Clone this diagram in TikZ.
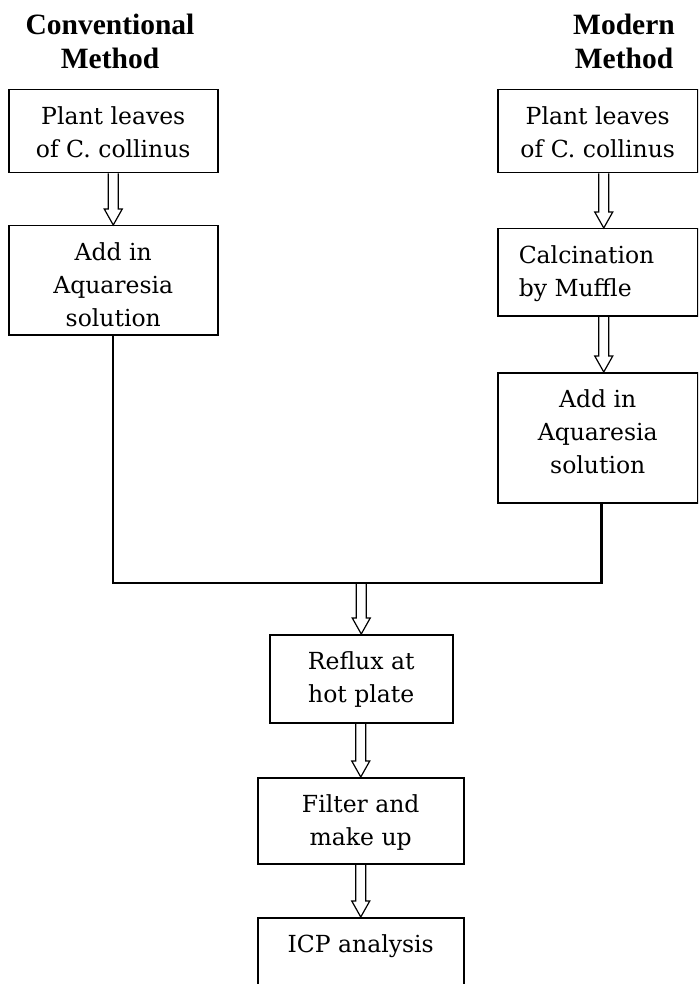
\documentclass[tikz,border=0pt]{standalone}
\usepackage{fontspec}
\setmainfont{DejaVu Serif}
\newfontfamily\headfont{Liberation Serif}
\usetikzlibrary{calc}

\newcommand{\boxtext}[4][\centering]{\parbox[t][#3][t]{#2}{#1\rule{0pt}{35pt}#4}}
\newcommand{\hollowarrow}[2]{%
	\coordinate (arrtop) at (#1 -| #2);
	\draw[arrowline] ($(arrtop)+(-5,0)$) -- ($(#2)+(-5,-16)$) -- ($(#2)+(-9,-16)$) -- (#2)
		-- ($(#2)+(9,-16)$) -- ($(#2)+(5,-16)$) -- ($(arrtop)+(5,0)$);}

\tikzset{
	stepbox/.style={draw, line width=1.5pt, inner sep=0pt, anchor=north west,
		font=\fontsize{23.5}{33}\selectfont},
	headtext/.style={anchor=north, align=center, inner sep=0pt,
		font=\headfont\bfseries\fontsize{29.5}{34}\selectfont},
	arrowline/.style={line width=1.2pt, line join=miter},
	joinline/.style={line width=2pt}
}

\begin{document}
\begin{tikzpicture}[x=1pt,y=-1pt]
		\useasboundingbox (0,0) rectangle (698,984);
		\clip (0,0) rectangle (698,984);
		\node[headtext] (convhead) at (110,0) {\rule{0pt}{34pt}Conventional\\Method};
		\node[headtext] (modhead) at (624,0) {\rule{0pt}{34pt}Modern\\Method};
		\node[stepbox] (plantL) at (8,89) {\boxtext{209pt}{83pt}{Plant leaves\\of C. collinus}};
		\node[stepbox] (addL) at (8,225) {\boxtext{209pt}{109pt}{Add in\\Aquaresia\\solution}};
		\node[stepbox] (plantR) at (497,89) {\boxtext{200pt}{83pt}{Plant leaves\\of C. collinus}};
		\node[stepbox] (calcR) at (497,228) {\boxtext[\raggedright\leftskip=21pt]{200pt}{87pt}{Calcination\\by Muffle}};
		\node[stepbox] (addR) at (497,372) {\boxtext{200pt}{130pt}{Add in\\Aquaresia\\solution}};
		\node[stepbox] (reflux) at (269,634) {\boxtext{183pt}{88pt}{Reflux at\\hot plate}};
		\node[stepbox] (filter) at (257,777) {\boxtext{206pt}{86pt}{Filter and\\make up}};
		\node[stepbox] (icp) at (257,917) {\boxtext{206pt}{100pt}{ICP analysis}};
		\coordinate (r1a) at ([xshift=6pt]plantR.south);
		\coordinate (r1b) at ([xshift=6pt]calcR.north);
		\coordinate (r2a) at ([xshift=6pt]calcR.south);
		\coordinate (r2b) at ([xshift=6pt]addR.north);
		\coordinate (outR) at ([xshift=4pt]addR.south);
		\coordinate (merge) at ($(reflux.north)+(0,-51)$);
		\hollowarrow{plantL.south}{addL.north}
		\hollowarrow{r1a}{r1b}
		\hollowarrow{r2a}{r2b}
		\draw[joinline] (addL.south) |- (merge) -| (outR);
		\draw[joinline, line width=3pt] (outR) -- (outR |- merge);
		\hollowarrow{merge}{reflux.north}
		\hollowarrow{reflux.south}{filter.north}
		\hollowarrow{filter.south}{icp.north}
	\end{tikzpicture}
\end{document}
